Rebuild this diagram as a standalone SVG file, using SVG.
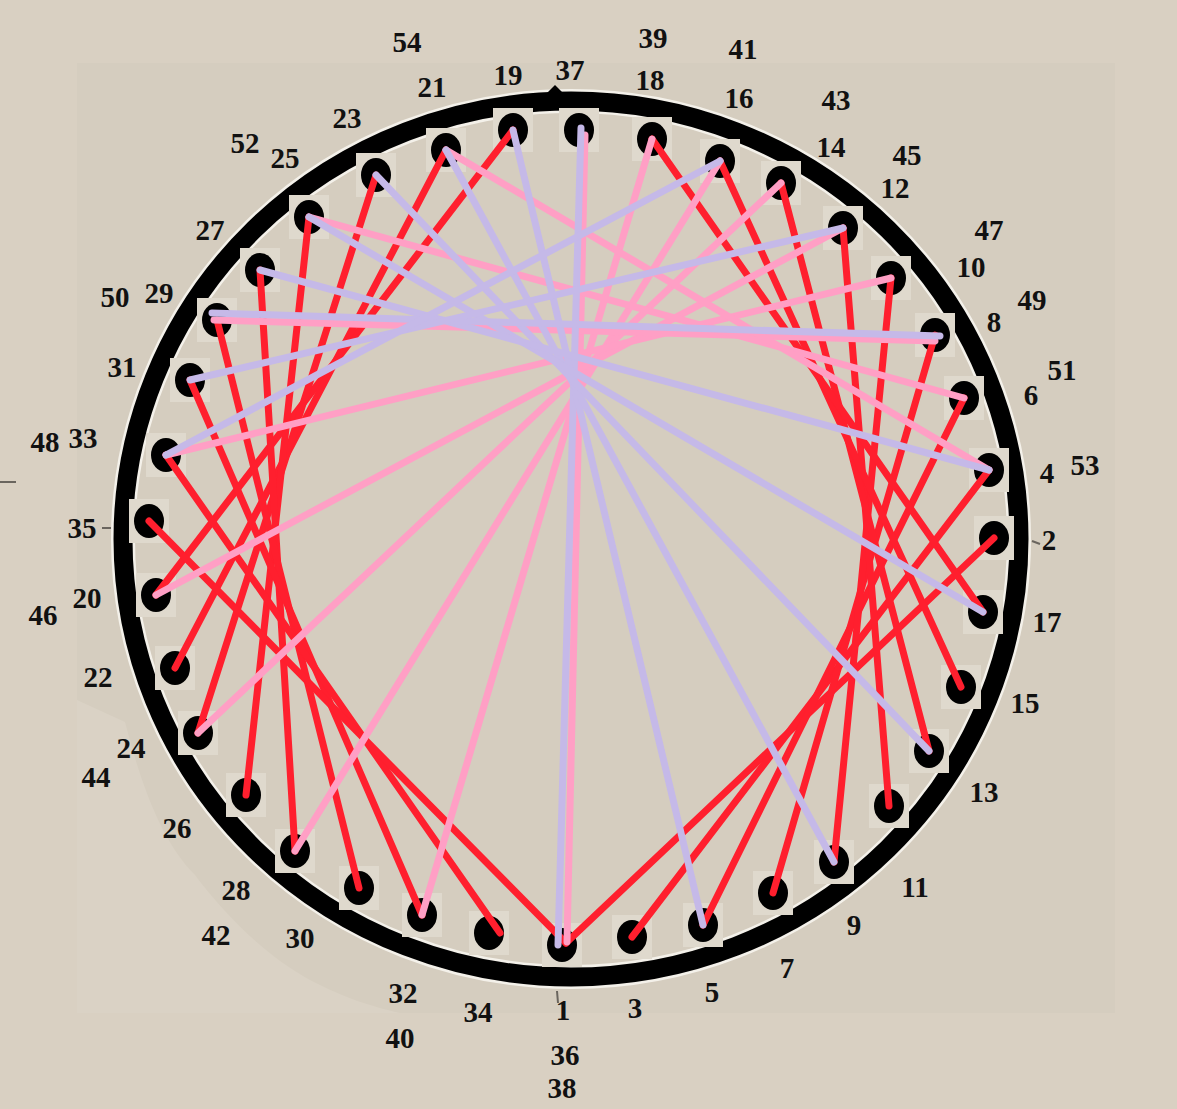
<svg xmlns="http://www.w3.org/2000/svg" width="1177" height="1109" viewBox="0 0 1177 1109">
<style>
.sq{fill:#dfd9cd}
.dot{fill:#000}
.lbl{font-family:"Liberation Serif","DejaVu Serif",serif;font-size:29px;font-weight:bold;fill:#111;text-anchor:middle}
.r{stroke:#ff1f2e;stroke-width:7;stroke-linecap:round;fill:none}
.p{stroke:#ff9fc5;stroke-width:7;stroke-linecap:round;fill:none}
.l{stroke:#c5b9e8;stroke-width:7;stroke-linecap:round;fill:none}
.tick{stroke:#6a655e;stroke-width:2;fill:none}
</style>
<defs>
<g id="h">
<rect class="sq" x="-20" y="-22" width="40" height="44"/>
<ellipse class="dot" cx="0" cy="0" rx="15" ry="17"/>
</g>
</defs>
<rect x="0" y="0" width="1177" height="1109" fill="#d9d0c2"/>
<rect x="77" y="63" width="1038" height="950" fill="#d5cdbf"/>
<path d="M77,700 L125,722 C140,780 160,840 195,875 C225,915 265,955 310,980 C345,998 370,1006 400,1013 L77,1013 Z" fill="#dad2c5"/>
<g id="ring">
<ellipse cx="571" cy="539" rx="448" ry="438" fill="none" stroke="#f4f1ea" stroke-width="24"/>
<ellipse cx="571" cy="539" rx="448" ry="438" fill="none" stroke="#000" stroke-width="19"/>
<path d="M546,94 L555,85 L564,94 Z" fill="#000"/>
<path class="tick" d="M557,991 L558,1003 M102,528 L111,528 M1032,541 L1040,544 M0,482 L16,482"/>
</g>
<g id="hole-1"><use href="#h" x="562" y="945"/><text class="lbl" x="563" y="1020">1</text><text class="lbl" x="565" y="1065">36</text><text class="lbl" x="562" y="1098">38</text></g>
<g id="hole-2"><use href="#h" x="994" y="538"/><text class="lbl" x="1049" y="550">2</text></g>
<g id="hole-3"><use href="#h" x="632" y="937"/><text class="lbl" x="635" y="1018">3</text></g>
<g id="hole-4"><use href="#h" x="989" y="470"/><text class="lbl" x="1047" y="483">4</text><text class="lbl" x="1085" y="475">53</text></g>
<g id="hole-5"><use href="#h" x="703" y="925"/><text class="lbl" x="712" y="1002">5</text></g>
<g id="hole-6"><use href="#h" x="964" y="398"/><text class="lbl" x="1031" y="405">6</text><text class="lbl" x="1062" y="380">51</text></g>
<g id="hole-7"><use href="#h" x="773" y="893"/><text class="lbl" x="787" y="978">7</text></g>
<g id="hole-8"><use href="#h" x="935" y="335"/><text class="lbl" x="994" y="332">8</text><text class="lbl" x="1032" y="310">49</text></g>
<g id="hole-9"><use href="#h" x="834" y="862"/><text class="lbl" x="854" y="935">9</text></g>
<g id="hole-10"><use href="#h" x="891" y="278"/><text class="lbl" x="971" y="277">10</text><text class="lbl" x="989" y="240">47</text></g>
<g id="hole-11"><use href="#h" x="889" y="806"/><text class="lbl" x="915" y="897">11</text></g>
<g id="hole-12"><use href="#h" x="843" y="228"/><text class="lbl" x="895" y="198">12</text><text class="lbl" x="907" y="165">45</text></g>
<g id="hole-13"><use href="#h" x="929" y="751"/><text class="lbl" x="984" y="802">13</text></g>
<g id="hole-14"><use href="#h" x="781" y="183"/><text class="lbl" x="831" y="157">14</text><text class="lbl" x="836" y="110">43</text></g>
<g id="hole-15"><use href="#h" x="961" y="687"/><text class="lbl" x="1025" y="713">15</text></g>
<g id="hole-16"><use href="#h" x="720" y="161"/><text class="lbl" x="739" y="108">16</text><text class="lbl" x="743" y="59">41</text></g>
<g id="hole-17"><use href="#h" x="983" y="612"/><text class="lbl" x="1047" y="632">17</text></g>
<g id="hole-18"><use href="#h" x="652" y="139"/><text class="lbl" x="650" y="90">18</text><text class="lbl" x="653" y="48">39</text></g>
<g id="hole-37"><use href="#h" x="579" y="130"/><text class="lbl" x="570" y="80">37</text></g>
<g id="hole-19"><use href="#h" x="513" y="130"/><text class="lbl" x="508" y="85">19</text></g>
<g id="hole-21"><use href="#h" x="446" y="150"/><text class="lbl" x="432" y="97">21</text><text class="lbl" x="407" y="52">54</text></g>
<g id="hole-23"><use href="#h" x="376" y="175"/><text class="lbl" x="347" y="128">23</text></g>
<g id="hole-25"><use href="#h" x="309" y="217"/><text class="lbl" x="285" y="168">25</text><text class="lbl" x="245" y="153">52</text></g>
<g id="hole-27"><use href="#h" x="260" y="270"/><text class="lbl" x="210" y="240">27</text></g>
<g id="hole-29"><use href="#h" x="217" y="320"/><text class="lbl" x="159" y="303">29</text><text class="lbl" x="115" y="307">50</text></g>
<g id="hole-31"><use href="#h" x="190" y="380"/><text class="lbl" x="122" y="377">31</text></g>
<g id="hole-33"><use href="#h" x="166" y="455"/><text class="lbl" x="83" y="448">33</text><text class="lbl" x="45" y="452">48</text></g>
<g id="hole-35"><use href="#h" x="149" y="521"/><text class="lbl" x="82" y="538">35</text></g>
<g id="hole-20"><use href="#h" x="156" y="595"/><text class="lbl" x="87" y="608">20</text><text class="lbl" x="43" y="625">46</text></g>
<g id="hole-22"><use href="#h" x="175" y="668"/><text class="lbl" x="98" y="687">22</text></g>
<g id="hole-24"><use href="#h" x="198" y="733"/><text class="lbl" x="131" y="758">24</text><text class="lbl" x="96" y="787">44</text></g>
<g id="hole-26"><use href="#h" x="246" y="795"/><text class="lbl" x="177" y="838">26</text></g>
<g id="hole-28"><use href="#h" x="295" y="851"/><text class="lbl" x="236" y="900">28</text><text class="lbl" x="216" y="945">42</text></g>
<g id="hole-30"><use href="#h" x="359" y="888"/><text class="lbl" x="300" y="948">30</text></g>
<g id="hole-32"><use href="#h" x="422" y="915"/><text class="lbl" x="403" y="1003">32</text><text class="lbl" x="400" y="1048">40</text></g>
<g id="hole-34"><use href="#h" x="489" y="933"/><text class="lbl" x="478" y="1022">34</text></g>
<g id="connectors">
<g id="red">
<path class="r" d="M566,943 L994,538"/>
<path class="r" d="M632,937 L989,470"/>
<path class="r" d="M703,925 L964,398"/>
<path class="r" d="M773,893 L935,335"/>
<path class="r" d="M834,862 L891,278"/>
<path class="r" d="M889,806 L843,228"/>
<path class="r" d="M929,751 L781,183"/>
<path class="r" d="M961,687 L720,161"/>
<path class="r" d="M983,612 L652,139"/>
<path class="r" d="M513,130 L156,595"/>
<path class="r" d="M446,150 L175,668"/>
<path class="r" d="M376,175 L198,733"/>
<path class="r" d="M309,217 L246,795"/>
<path class="r" d="M260,270 L295,851"/>
<path class="r" d="M217,320 L359,888"/>
<path class="r" d="M190,380 L422,915"/>
<path class="r" d="M166,455 L500,933"/>
<path class="r" d="M149,521 L566,943"/>
</g>
<g id="pink">
<path class="p" d="M567,942 L585,135"/>
<path class="p" d="M652,139 L422,915"/>
<path class="p" d="M720,161 L295,851"/>
<path class="p" d="M781,183 L198,733"/>
<path class="p" d="M843,228 L156,595"/>
<path class="p" d="M891,278 L166,455"/>
<path class="p" d="M935,341 L214,320"/>
<path class="p" d="M964,398 L309,217"/>
<path class="p" d="M989,470 L446,150"/>
</g>
<g id="lavender">
<path class="l" d="M558,945 L581,128"/>
<path class="l" d="M703,925 L513,130"/>
<path class="l" d="M834,862 L446,150"/>
<path class="l" d="M929,751 L376,175"/>
<path class="l" d="M983,612 L309,217"/>
<path class="l" d="M989,470 L260,270"/>
<path class="l" d="M940,336 L212,313"/>
<path class="l" d="M843,228 L190,380"/>
<path class="l" d="M720,161 L166,455"/>
</g>
</g>
</svg>
